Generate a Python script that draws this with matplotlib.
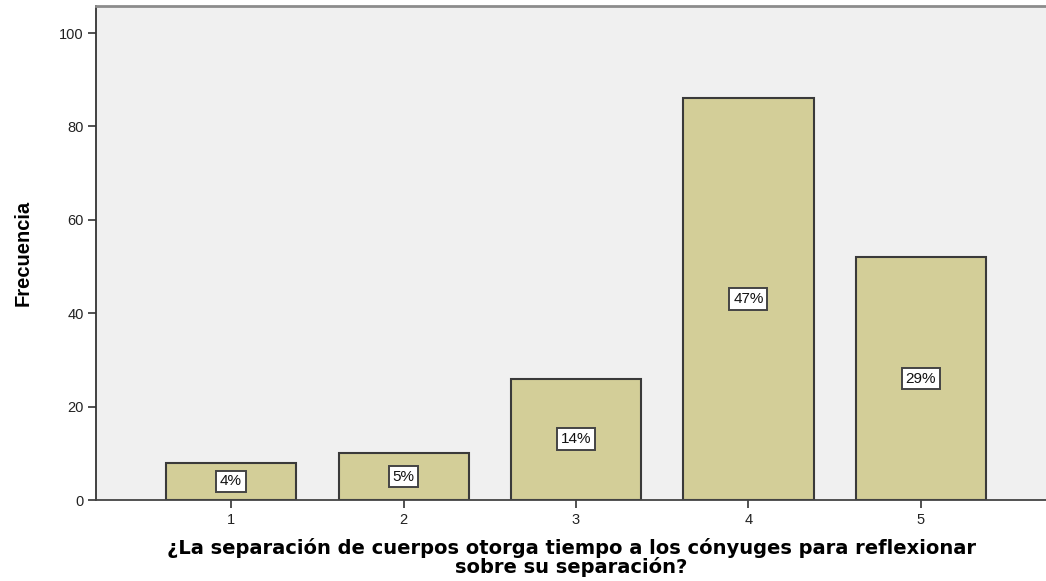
import matplotlib.pyplot as plt
import numpy as np

categorias = ["1", "2", "3", "4", "5"]
frecuencias = [8, 10, 26, 86, 52]
porcentajes = ["4%", "5%", "14%", "47%", "29%"]

fig = plt.figure(figsize=(10.46, 5.81), dpi=100)
ax = fig.add_axes([0.0918, 0.1394, 0.9082, 0.8503])
ax.set_facecolor("#f0f0f0")

x = np.arange(1, len(categorias) + 1)
ax.bar(x, frecuencias, width=0.754, color="#d3ce98", edgecolor="#3a3a3a", linewidth=1.5, zorder=2)

for xi, f, p in zip(x, frecuencias, porcentajes):
    ax.text(xi, f / 2, p, ha="center", va="center", fontsize=11, family="Liberation Sans",
            color="#111111", zorder=3,
            bbox=dict(boxstyle="square,pad=0.25", facecolor="white", edgecolor="#444444", linewidth=1.4))

ax.set_xlim(0.217, 5.725)
ax.set_ylim(0, 105.8)
ax.set_xticks(x)
ax.set_xticklabels(categorias)
ax.set_yticks([0, 20, 40, 60, 80, 100])

for lbl in ax.get_xticklabels() + ax.get_yticklabels():
    lbl.set_family("Liberation Sans")
    lbl.set_fontsize(10.5)
    lbl.set_color("#222222")
ax.tick_params(axis="both", length=6, width=1.2, color="#333333", pad=3)

ax.spines["right"].set_visible(False)
ax.spines["top"].set_color("#8c8c8c")
ax.spines["top"].set_linewidth(2)
ax.spines["left"].set_color("#333333")
ax.spines["bottom"].set_color("#444444")
ax.spines["left"].set_linewidth(1.3)
ax.spines["bottom"].set_linewidth(1.3)

ax.set_ylabel("Frecuencia", fontsize=14.5, fontweight="bold", family="Liberation Sans", labelpad=19)
ax.set_xlabel("¿La separación de cuerpos otorga tiempo a los cónyuges para reflexionar\nsobre su separación?",
              fontsize=14, fontweight="bold", family="DejaVu Sans", linespacing=0.95, labelpad=8)

fig.savefig("out.png", dpi=100, facecolor="white")
